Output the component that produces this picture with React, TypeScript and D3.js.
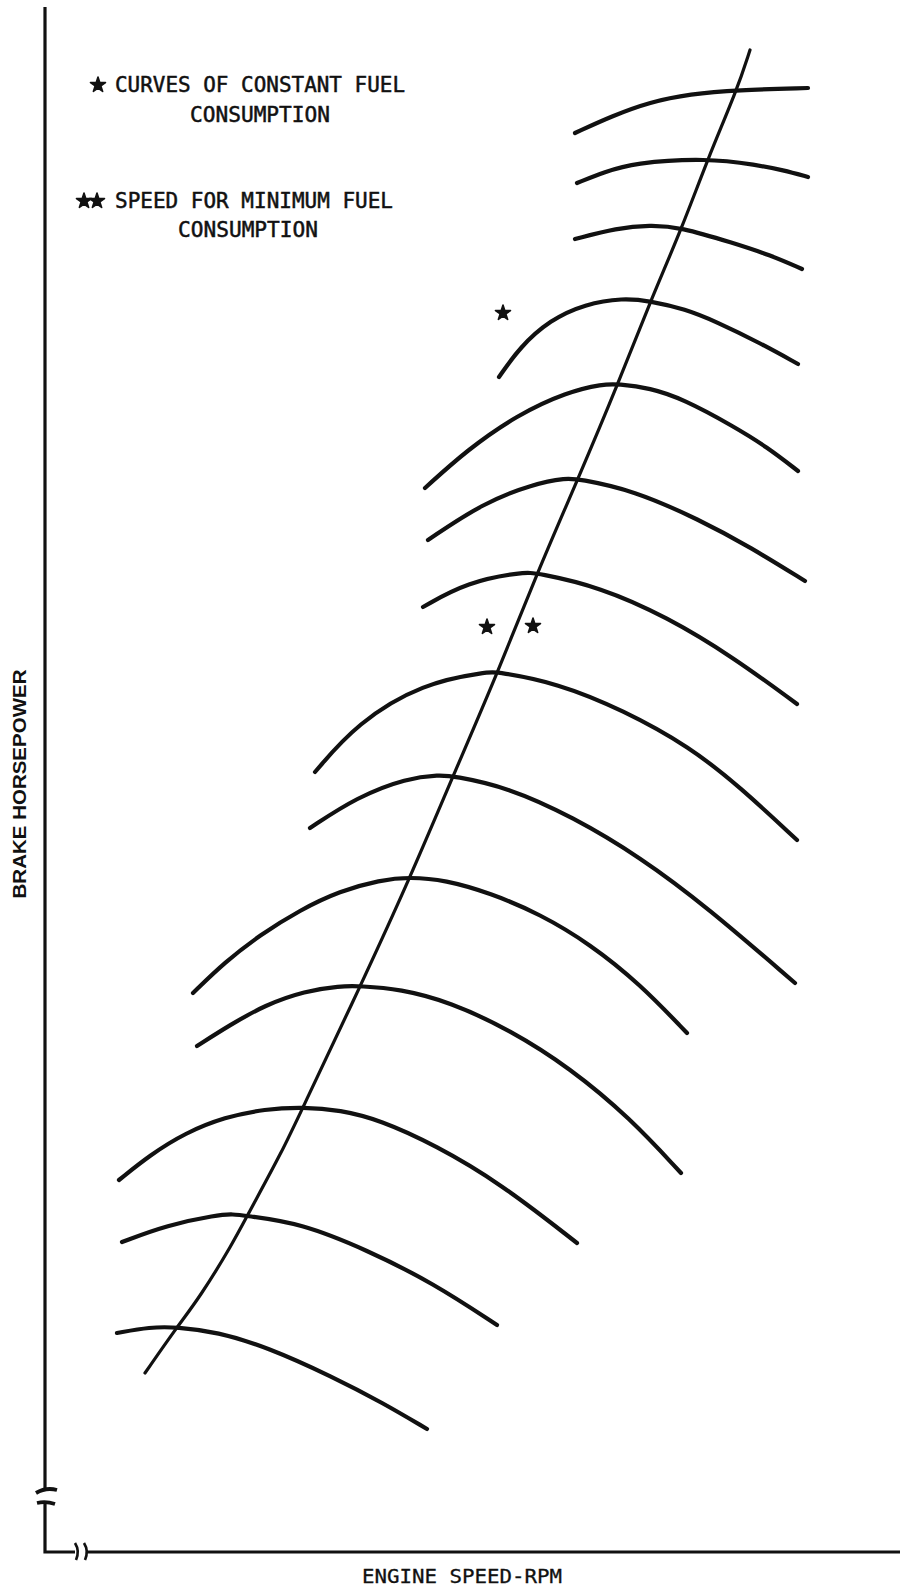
import React from 'react';
import * as d3 from 'd3';

const W = 900;
const H = 1592;

// Engine speed (arbitrary rpm units) vs brake horsepower for each curve of constant fuel consumption
const fuelCurve1 = [[2120, 283.8], [2268, 287.2], [2420, 290.0], [2580, 291.6], [2768, 292.4], [3052, 292.8]];
const fuelCurve2 = [[2128, 273.8], [2240, 276.0], [2352, 277.8], [2648, 278.8], [2848, 277.4], [2952, 276.4], [3052, 275.0]];
const fuelCurve3 = [[2120, 262.6], [2288, 264.8], [2420, 265.4], [2540, 265.0], [2752, 261.8], [2900, 259.4], [3028, 256.6]];
const fuelCurve4 = [[1816, 235.0], [1900, 241.0], [2020, 246.4], [2160, 249.6], [2312, 250.8], [2420, 250.2], [2560, 248.6], [2688, 246.0], [2860, 241.8], [3012, 237.6]];
const fuelCurve5 = [[1520, 212.8], [1688, 220.4], [1888, 227.4], [2088, 232.0], [2232, 233.6], [2292, 233.6], [2420, 232.8], [2552, 230.6], [2752, 225.2], [2888, 221.0], [3012, 216.2]];
const fuelCurve6 = [[1532, 202.4], [1752, 209.8], [1952, 213.6], [2088, 214.8], [2132, 214.6], [2352, 212.4], [2620, 206.4], [2820, 201.0], [3040, 194.2]];
const fuelCurve7 = [[1512, 189.0], [1688, 194.0], [1912, 196.0], [1968, 195.8], [2220, 193.0], [2488, 187.0], [2752, 179.0], [3008, 169.6]];
const fuelCurve8 = [[1080, 156.0], [1248, 165.8], [1512, 173.8], [1768, 176.0], [1812, 176.0], [2048, 173.8], [2312, 168.4], [2580, 161.0], [2780, 153.0], [3008, 142.4]];
const fuelCurve9 = [[1060, 144.8], [1248, 151.0], [1448, 154.8], [1580, 155.4], [1632, 155.2], [1848, 153.0], [2112, 147.0], [2380, 139.0], [2648, 129.0], [3000, 113.8]];
const fuelCurve10 = [[592, 111.8], [720, 118.0], [860, 123.4], [1020, 128.4], [1180, 132.2], [1340, 134.4], [1460, 135.0], [1600, 134.4], [1780, 131.8], [1980, 127.6], [2180, 121.6], [2380, 113.6], [2568, 103.8]];
const fuelCurve11 = [[608, 101.2], [740, 105.4], [880, 109.4], [1040, 112.2], [1180, 113.2], [1260, 113.2], [1420, 112.6], [1620, 110.0], [1860, 104.4], [2100, 96.8], [2340, 86.8], [2544, 75.8]];
const fuelCurve12 = [[296, 74.4], [420, 79.4], [560, 83.8], [720, 87.0], [880, 88.6], [1032, 89.0], [1180, 88.4], [1340, 86.4], [1560, 81.4], [1820, 73.8], [2128, 61.8]];
const fuelCurve13 = [[308, 62.0], [488, 65.4], [688, 67.4], [752, 67.6], [808, 67.2], [1020, 65.8], [1288, 60.4], [1552, 53.8], [1808, 45.4]];
const fuelCurve14 = [[288, 43.8], [420, 45.0], [528, 45.0], [688, 44.0], [888, 41.0], [1152, 35.0], [1352, 29.8], [1528, 24.6]];

const fuelCurves = [
  fuelCurve1, fuelCurve2, fuelCurve3, fuelCurve4, fuelCurve5, fuelCurve6, fuelCurve7,
  fuelCurve8, fuelCurve9, fuelCurve10, fuelCurve11, fuelCurve12, fuelCurve13, fuelCurve14,
];

// Locus of the speed giving minimum fuel consumption at each power level
const minFuelSpeed = [
  [400, 35.8], [528, 45.0], [620, 51.0], [752, 61.8], [808, 67.2], [952, 80.4], [1032, 89.0],
  [1260, 113.0], [1460, 134.8], [1632, 155.2], [1812, 176.0], [1968, 195.8], [2132, 214.6],
  [2292, 233.6], [2420, 250.0], [2548, 264.8], [2652, 278.8], [2768, 292.4], [2820, 300.4],
];

// Marker stars placed on the chart
const singleStar = [[1832, 247.8]];
const doubleStar = [[1768, 185.0], [1952, 185.2]];

const legendLines = [
  { text: 'CURVES OF CONSTANT FUEL', x: 115, y: 92, w: 290, stars: [98] },
  { text: 'CONSUMPTION', x: 190, y: 122, w: 140, stars: [] },
  { text: 'SPEED FOR MINIMUM FUEL', x: 115, y: 208, w: 278, stars: [84, 97] },
  { text: 'CONSUMPTION', x: 178, y: 237, w: 140, stars: [] },
];

const xTitle = 'ENGINE SPEED-RPM';
const yTitle = 'BRAKE HORSEPOWER';

export default function App() {
  const x = d3.scaleLinear().domain([0, 3420]).range([45, 900]);
  const y = d3.scaleLinear().domain([0, 310]).range([1552, 2]);

  const line = d3
    .line<number[]>()
    .x((d) => x(d[0]))
    .y((d) => y(d[1]))
    .curve(d3.curveBasis);

  const star = d3.symbol().type(d3.symbolStar).size(70)() as string;
  const ink = '#111';
  const mono = '"DejaVu Sans Mono", "Liberation Mono", monospace';

  const x0 = x(0);
  const yBase = y(0);

  return (
    <svg
      width={W}
      height={H}
      viewBox={`0 0 ${W} ${H}`}
      style={{ position: 'absolute', left: 0, top: 0, background: '#fff' }}
    >
      <rect width={W} height={H} fill="#fff" />

      {/* axes with break marks */}
      <g fill="none" stroke={ink} strokeWidth={3.2}>
        <path d={`M${x0},${y(309)} L${x0},${y(12.4)}`} />
        <path d={`M36,1493 Q46,1487 57,1490`} strokeWidth={3.8} />
        <path d={`M37,1503 Q46,1501 55,1504`} strokeWidth={3.8} />
        <path d={`M${x0},1503 L${x0},${yBase} L75,${yBase}`} strokeLinejoin="miter" />
        <path d={`M75,1543 Q80,1551 76,1560`} strokeWidth={2.6} />
        <path d={`M84,1543 Q89,1551 85,1560`} strokeWidth={2.6} />
        <path d={`M87,${yBase} L${W},${yBase}`} />
      </g>

      {/* curves of constant fuel consumption */}
      <g fill="none" stroke={ink} strokeWidth={4.2} strokeLinecap="round">
        {fuelCurves.map((c, i) => (
          <path key={i} d={line(c) as string} />
        ))}
      </g>

      {/* speed for minimum fuel consumption */}
      <path
        d={line(minFuelSpeed) as string}
        fill="none"
        stroke={ink}
        strokeWidth={3.2}
        strokeLinecap="round"
      />

      {/* chart stars */}
      <g fill={ink} stroke={ink} strokeWidth={1.6} strokeLinejoin="round">
        {[...singleStar, ...doubleStar].map((p, i) => (
          <path key={i} d={star} transform={`translate(${x(p[0])},${y(p[1])})`} />
        ))}
      </g>

      {/* legend */}
      <g fill={ink} fontFamily={mono} fontSize={21}>
        {legendLines.map((l, i) => (
          <g key={i}>
            {l.stars.map((sx, j) => (
              <path
                key={j}
                d={star}
                stroke={ink}
                strokeWidth={1.6}
                strokeLinejoin="round"
                transform={`translate(${sx},${l.y - 7})`}
              />
            ))}
            <text
              x={l.x}
              y={l.y}
              stroke={ink}
              strokeWidth={0.5}
              textLength={l.w}
              lengthAdjust="spacingAndGlyphs"
            >
              {l.text}
            </text>
          </g>
        ))}
      </g>

      {/* axis titles */}
      <text
        x={362}
        y={1583}
        fill={ink}
        stroke={ink}
        strokeWidth={0.3}
        fontFamily={mono}
        fontSize={19}
        textLength={200}
        lengthAdjust="spacingAndGlyphs"
      >
        {xTitle}
      </text>
      <text
        transform="translate(25.5,784) rotate(-90)"
        textAnchor="middle"
        fill={ink}
        fontFamily='"Liberation Sans", Arial, sans-serif'
        fontWeight="bold"
        fontSize={18}
        textLength={229}
        lengthAdjust="spacingAndGlyphs"
      >
        {yTitle}
      </text>
    </svg>
  );
}
